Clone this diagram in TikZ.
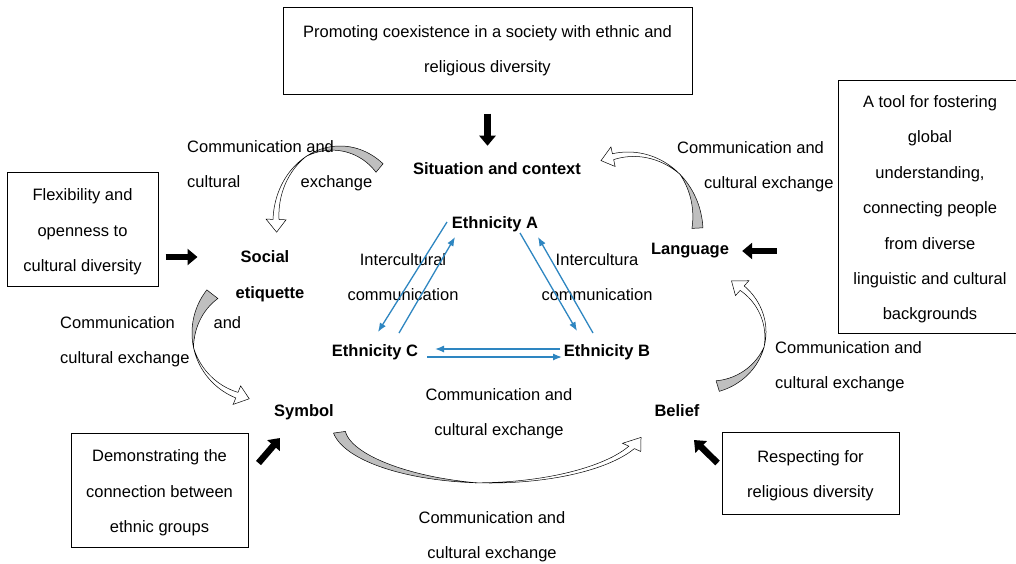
\documentclass[tikz,border=0pt]{standalone}
\usepackage{fontspec}
\setmainfont{Liberation Sans}
\usetikzlibrary{arrows.meta,calc}
\definecolor{flowblue}{RGB}{46,134,193}
\colorlet{ribbongray}{gray!50}
\newcommand{\dfont}{\fontsize{16.5}{35.4}\selectfont}
\newcommand{\topstrut}{\rule{0pt}{18pt}}
\newcommand{\bandw}{6}
\newcommand{\barbw}{7}
% twisted ribbon arrow along an ellipse: cx, cy, rx, ry, tail, twist, head, tip, tail width
\newcommand{\ribbonarrow}[9]{%
  \filldraw[ribbon, fill=ribbongray]
    plot[domain=#5:#6, samples=40] ({#1+(#3)*cos(\x)},{#2+(#4)*sin(\x)})
    -- plot[domain=#6:#5, samples=40] ({#1+(#3-#9*(\x-(#6))/((#5)-(#6)))*cos(\x)},{#2+(#4-#9*(\x-(#6))/((#5)-(#6)))*sin(\x)})
    -- cycle;
  \filldraw[ribbon, fill=white]
    plot[domain=#6:#7, samples=40] ({#1+(#3)*cos(\x)},{#2+(#4)*sin(\x)})
    -- ({#1+(#3+\barbw)*cos(#7)},{#2+(#4+\barbw)*sin(#7)})
    -- ({#1+(#3-\bandw/2)*cos(#8)},{#2+(#4-\bandw/2)*sin(#8)})
    -- ({#1+(#3-\bandw-\barbw)*cos(#7)},{#2+(#4-\bandw-\barbw)*sin(#7)})
    -- plot[domain=#7:#6, samples=40] ({#1+(#3-\bandw*(\x-(#6))/((#7)-(#6)))*cos(\x)},{#2+(#4-\bandw*(\x-(#6))/((#7)-(#6)))*sin(\x)})
    -- cycle;
}
\begin{document}
\begin{tikzpicture}[x=1pt,y=-1pt,
    box/.style={draw, line width=1pt, inner sep=0pt, font=\dfont, align=center},
    txt/.style={inner sep=0pt, font=\dfont, align=center},
    lbl/.style={inner sep=0pt, font=\dfont\bfseries},
    flow/.style={draw=flowblue, line width=1.3pt, -{Latex[length=9pt,width=7pt]}},
    blockarrow/.style={line width=6.5pt, -{Triangle[length=10pt,width=16pt]}},
    ribbon/.style={draw=black, line width=0.5pt}]
%   \draw[help lines] (0,0) grid[step=50] (1016,563);
    \useasboundingbox (0,0) rectangle (1016,563);
    \fill[white] (0,0) rectangle (1016,563);
    % curved exchange arrows
    \ribbonarrow{340}{222}{67}{76}{-50}{-120}{-178}{-188}{11}
    \ribbonarrow{628}{232}{75}{80}{-3}{-46}{-102}{-112}{11}
    \ribbonarrow{262}{333}{70}{70}{218}{168}{112}{101}{14}
    \ribbonarrow{700}{332}{66}{62}{73}{14}{-48}{-60}{11}
    \ribbonarrow{490}{425}{158}{58}{172}{95}{24}{13}{12}
    % boxes
    \node[box, minimum width=409pt, minimum height=87pt] (goal) at (487.5,50.5) {Promoting coexistence in a society with ethnic and\\religious diversity};
    \node[box, minimum width=151pt, minimum height=114pt] (flex) at (82.5,229) {\topstrut Flexibility and\\openness to\\cultural diversity};
    \node[box, minimum width=184pt, minimum height=253pt] (tool) at (930,206.5) {\topstrut A tool for fostering\\global\\understanding,\\connecting people\\from diverse\\linguistic and cultural\\backgrounds};
    \node[box, minimum width=177pt, minimum height=114pt] (demo) at (159.5,490) {\topstrut Demonstrating the\\connection between\\ethnic groups};
    \node[box, minimum width=177pt, minimum height=82pt] (respect) at (810.5,473) {\topstrut Respecting for\\religious diversity};
    % main labels
    \node[lbl] (situation) at (497,169) {Situation and context};
    \node[lbl] (ethA) at (495,224) {Ethnicity A};
    \node[lbl] (ethC) at (375,352) {Ethnicity C};
    \node[lbl] (ethB) at (607,352) {Ethnicity B};
    \node[lbl] (social) at (265,257) {Social};
    \node[lbl] (etiquette) at (270,294) {etiquette};
    \node[lbl] (language) at (690,251) {Language};
    \node[lbl] (symbol) at (304,412) {Symbol};
    \node[lbl] (belief) at (677,411) {Belief};
    % exchange texts
    \node[txt, align=left, anchor=west] (exTL) at (187,166) {Communication and\\\makebox[185pt][s]{cultural exchange}};
    \node[txt, align=left, anchor=west] (exTR) at (677,167) {Communication and\\\hspace*{27pt}cultural exchange};
    \node[txt, align=left, anchor=west] (exL) at (60,342) {\makebox[181pt][s]{Communication and}\\cultural exchange};
    \node[txt, align=left, anchor=west] (exR) at (775,367) {Communication and\\cultural exchange};
    \node[txt] (exM) at (499,414) {Communication and\\cultural exchange};
    \node[txt] (exB) at (492,537) {Communication and\\cultural exchange};
    \node[txt] (icL) at (403,277) {Intercultural\\communication};
    \node[txt] (icR) at (597,277) {Intercultura\\communication};
    % block arrows
    \draw[blockarrow, shorten <=19pt, shorten >=17pt] (goal.south) -- (goal.south |- situation.north);
    \draw[blockarrow, shorten <=7pt, shorten >=43pt] (flex.east |- social.west) -- (social.west);
    \draw[blockarrow, shorten <=61pt, shorten >=13pt] (tool.west |- language.east) -- (language.east);
    \draw[blockarrow] ([shift={(10,-27)}]demo.east) -- ([shift={(-24,26)}]symbol.center);
    \draw[blockarrow] ([shift={(-4,-10)}]respect.west) -- ([shift={(17,29)}]belief.center);
    % intercultural flows
    \draw[flow] ([shift={(-48,-2)}]ethA.center) -- ([shift={(3,-20)}]ethC.center);
    \draw[flow] ([shift={(24,-19)}]ethC.center) -- ([shift={(-40,13)}]ethA.center);
    \draw[flow] ([shift={(25,9)}]ethA.center) -- ([shift={(-30,-21)}]ethB.center);
    \draw[flow] ([shift={(-14,-19)}]ethB.center) -- ([shift={(43,13)}]ethA.center);
    \draw[flow] ([shift={(-47,-3)}]ethB.center) -- ([shift={(60,-3)}]ethC.center);
    \draw[flow] ([shift={(52,5)}]ethC.center) -- ([shift={(-45,5)}]ethB.center);
\end{tikzpicture}
\end{document}
